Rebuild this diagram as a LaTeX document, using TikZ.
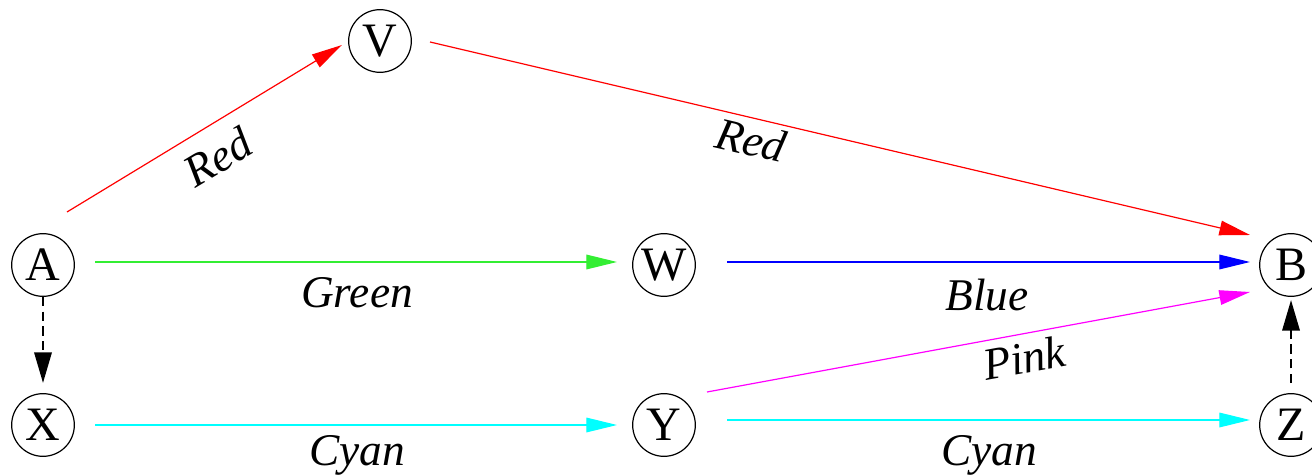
\documentclass[tikz,border=0pt]{standalone}
\usepackage{fontspec}
\setmainfont{Liberation Serif}
\usetikzlibrary{arrows.meta}
\definecolor{ink}{HTML}{000000}
\definecolor{redpath}{HTML}{FF0000}
\definecolor{greenpath}{HTML}{33EE33}
\definecolor{bluepath}{HTML}{0000FF}
\definecolor{pinkpath}{HTML}{FF00FF}
\definecolor{cyanpath}{HTML}{00FFFF}
\tikzset{
  vertex/.style={circle,draw=ink,line width=.9pt,minimum size=47pt,
    inner sep=0pt,text=ink,font=\fontsize{36}{36}\selectfont},
  edge/.style={-{Triangle[length=23pt,width=11pt]},line width=.9pt},
  implied/.style={-{Triangle[length=23pt,width=13pt]},line width=1.8pt,
    draw=ink,dash pattern=on 7pt off 4pt},
  edgelabel/.style={font=\fontsize{34}{34}\selectfont\itshape,text=ink,inner sep=0pt}
}
\begin{document}
\begin{tikzpicture}[x=.75pt,y=.75pt]
\useasboundingbox (0,0) rectangle (1312,475);

% Nodes
\node[vertex] (V) at (380,434) {V};
\node[vertex] (A) at (43,210) {A};
\node[vertex] (W) at (664,210) {W};
\node[vertex] (B) at (1291,210) {B};
\node[vertex] (X) at (43,50) {X};
\node[vertex] (Y) at (664,50) {Y};
\node[vertex] (Z) at (1291,50) {Z};

% Top route: red
\draw[edge,redpath] ([shift={(24,53)}]A.center) -- ([shift={(-38,-4)}]V.center);
\draw[edge,redpath] ([shift={(50,-1)}]V.center) -- ([shift={(-41,30)}]B.center);
\node[edgelabel,rotate=31] (lblAV) at (218,318) {Red};
\node[edgelabel,rotate=-13.2] (lblVB) at (751,335) {Red};

% Middle row: green and blue
\draw[edge,greenpath] ([shift={(52,3)}]A.center) -- ([shift={(-47,3)}]W.center);
\draw[edge,bluepath] ([shift={(63,3)}]W.center) -- ([shift={(-41,3)}]B.center);
\node[edgelabel,anchor=base] (lblAW) at (357,167) {Green};
\node[edgelabel,anchor=base] (lblWB) at (987,165) {Blue};

% Bottom row: cyan, and pink up to B
\draw[edge,cyanpath] ([shift={(52,0)}]X.center) -- ([shift={(-47,0)}]Y.center);
\draw[edge,cyanpath] ([shift={(63,5)}]Y.center) -- ([shift={(-41,5)}]Z.center);
\draw[edge,pinkpath] ([shift={(43,33)}]Y.center) -- ([shift={(-41,-27)}]B.center);
\node[edgelabel,anchor=base] (lblXY) at (357,10) {Cyan};
\node[edgelabel,anchor=base] (lblYZ) at (989,10) {Cyan};
\node[edgelabel,rotate=10.4] (lblYB) at (1024,117) {Pink};

% Dashed links
\draw[implied] ([shift={(0,-32)}]A.center) -- ([shift={(0,42)}]X.center);
\draw[implied] ([shift={(0,42)}]Z.center) -- ([shift={(0,-35)}]B.center);

\end{tikzpicture}
\end{document}
